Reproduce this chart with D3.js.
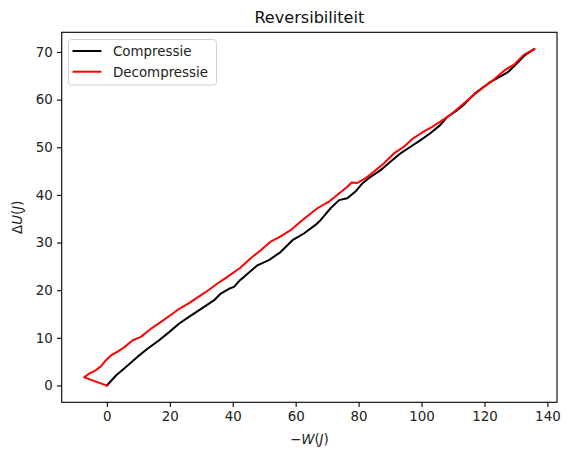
<!DOCTYPE html>
<html>
<head>
<meta charset="utf-8">
<script src="https://cdn.jsdelivr.net/npm/d3@7"></script>
<style>
  body { margin: 0; background: white; }
  text { font-family: "DejaVu Sans", sans-serif; }
</style>
</head>
<body>
<script>
// values
let compX = [0, 2.9, 6.6, 9.7, 12.9, 16.6, 19.8, 23.0, 26.1, 30.9, 34.1, 36.2, 38.8, 40.4, 42.3, 43.6, 47.8, 51.5, 55.2, 59.0, 62.6, 66.3, 67.9, 71.1, 73.8, 76.4, 79.0, 81.2, 83.8, 87.0, 90.2, 93.3, 96.5, 99.7, 102.9, 106.0, 108.2, 110.8, 113.4, 117.1, 121.4, 125.1, 127.7, 130.4, 133.0, 135.7];
let compY = [0, 2.1, 4.2, 6.0, 7.7, 9.5, 11.2, 13.0, 14.4, 16.5, 17.9, 19.3, 20.3, 20.7, 22.1, 22.8, 25.2, 26.3, 28.0, 30.5, 31.9, 33.7, 34.7, 37.2, 38.9, 39.3, 40.7, 42.4, 43.8, 45.2, 47.0, 48.7, 50.1, 51.5, 53.0, 54.7, 56.4, 57.5, 58.9, 61.4, 63.5, 64.9, 65.9, 67.7, 69.4, 70.6];

let decompX = [0, -7.2, -5.6, -4.0, -1.9, -0.3, 1.3, 3.4, 5.5, 8.2, 10.8, 14.0, 17.1, 20.3, 23.0, 26.1, 29.8, 32.5, 35.1, 38.3, 42.4, 45.7, 48.9, 52.1, 55.2, 58.4, 61.6, 64.2, 66.9, 70.6, 73.2, 76.4, 77.8, 79.6, 82.2, 84.9, 88.0, 91.2, 94.4, 97.0, 100.2, 103.4, 106.0, 109.2, 112.4, 116.1, 119.3, 123.0, 126.7, 129.3, 132.5, 135.9];
let decompY = [0, 1.7, 2.5, 3.0, 4.0, 5.3, 6.3, 7.1, 8.0, 9.5, 10.2, 11.9, 13.3, 14.8, 16.1, 17.3, 18.9, 20.1, 21.4, 22.8, 24.7, 26.7, 28.4, 30.2, 31.3, 32.6, 34.4, 35.8, 37.2, 38.6, 40.0, 41.7, 42.6, 42.5, 43.5, 44.9, 46.6, 48.7, 50.1, 51.7, 53.1, 54.3, 55.4, 56.8, 58.6, 60.7, 62.4, 64.2, 66.3, 67.3, 69.4, 70.6];

let xTicks = [0, 20, 40, 60, 80, 100, 120, 140];
let yTicks = [0, 10, 20, 30, 40, 50, 60, 70];
let seriesNames = ["Compressie", "Decompressie"];
let seriesColors = ["black", "red"];

let width = 571, height = 459;
let mLeft = 61.7, mRight = 557, mTop = 32.3, mBottom = 402.3;

let series = [
  compX.map((x, i) => ({x: x, y: compY[i]})),
  decompX.map((x, i) => ({x: x, y: decompY[i]}))
];

// matplotlib style 5% margin
let allX = compX.concat(decompX), allY = compY.concat(decompY);
let xmin = d3.min(allX), xmax = d3.max(allX);
let ymin = d3.min(allY), ymax = d3.max(allY);
let padX = (xmax - xmin) * 0.05, padY = (ymax - ymin) * 0.05;

let xScale = d3.scaleLinear().domain([xmin - padX, xmax + padX]).range([mLeft, mRight]);
let yScale = d3.scaleLinear().domain([ymin - padY, ymax + padY]).range([mBottom, mTop]);

let viz = d3.select("body")
            .append("svg")
                .attr("width", width)
                .attr("height", height)
                .style("background-color", "white")
;

let line = d3.line()
             .x(d => xScale(d.x))
             .y(d => yScale(d.y))
;

viz.selectAll(".series").data(series)
   .enter()
   .append("path")
     .attr("class", "series")
     .attr("d", line)
     .attr("fill", "none")
     .attr("stroke", (d, i) => seriesColors[i])
     .attr("stroke-width", 2)
     .attr("stroke-linejoin", "round")
     .attr("stroke-linecap", "square")
;

// axes
let xAxis = d3.axisBottom(xScale).tickValues(xTicks).tickSize(4.7).tickPadding(4.2);
let yAxis = d3.axisLeft(yScale).tickValues(yTicks).tickSize(4.7).tickPadding(4.2);

let gx = viz.append("g")
            .attr("transform", "translate(0," + mBottom + ")")
            .call(xAxis)
;
let gy = viz.append("g")
            .attr("transform", "translate(" + mLeft + ",0)")
            .call(yAxis)
;
[gx, gy].forEach(g => {
  g.select(".domain").remove();
  g.selectAll("line").attr("stroke", "black").attr("stroke-width", 1.1);
  g.selectAll("text")
     .style("font-family", "DejaVu Sans")
     .style("font-size", "13.4px")
     .attr("fill", "#222");
});

// frame
viz.append("rect")
     .attr("x", mLeft)
     .attr("y", mTop)
     .attr("width", mRight - mLeft)
     .attr("height", mBottom - mTop)
     .attr("fill", "none")
     .attr("stroke", "black")
     .attr("stroke-width", 1.1)
;

// title
viz.append("text")
     .attr("x", (mLeft + mRight) / 2)
     .attr("y", 22.5)
     .attr("text-anchor", "middle")
     .style("font-size", "16.1px")
     .attr("fill", "#111")
     .text("Reversibiliteit")
;

// x label
let xl = viz.append("text")
            .attr("x", (mLeft + mRight) / 2)
            .attr("y", 444)
            .attr("text-anchor", "middle")
            .style("font-size", "13.4px")
            .attr("fill", "#222")
;
xl.append("tspan").text("\u2212");
xl.append("tspan").style("font-style", "italic").text("W");
xl.append("tspan").text("(");
xl.append("tspan").style("font-style", "italic").text("J");
xl.append("tspan").text(")");

// y label
let yl = viz.append("text")
            .attr("transform", "translate(22," + ((mTop + mBottom) / 2) + ") rotate(-90)")
            .attr("text-anchor", "middle")
            .style("font-size", "13.4px")
            .attr("fill", "#222")
;
yl.append("tspan").text("\u0394");
yl.append("tspan").style("font-style", "italic").text("U");
yl.append("tspan").text("(");
yl.append("tspan").style("font-style", "italic").text("J");
yl.append("tspan").text(")");

// legend
let legend = viz.append("g");
legend.append("rect")
        .attr("x", 68.5)
        .attr("y", 39.5)
        .attr("width", 148)
        .attr("height", 45.5)
        .attr("rx", 3)
        .attr("fill", "white")
        .attr("fill-opacity", 0.8)
        .attr("stroke", "#d0d0d0")
        .attr("stroke-width", 1)
;
let items = legend.selectAll(".item").data(seriesNames)
                  .enter()
                  .append("g")
                    .attr("class", "item")
                    .attr("transform", (d, i) => "translate(0," + (51 + i * 20.7) + ")")
;
items.append("line")
       .attr("x1", 72.5)
       .attr("x2", 101.5)
       .attr("stroke", (d, i) => seriesColors[i])
       .attr("stroke-width", 2)
;
items.append("text")
       .attr("x", 113)
       .attr("y", 4.8)
       .style("font-size", "13.4px")
       .attr("fill", "#222")
       .text(d => d)
;
</script>
</body>
</html>
